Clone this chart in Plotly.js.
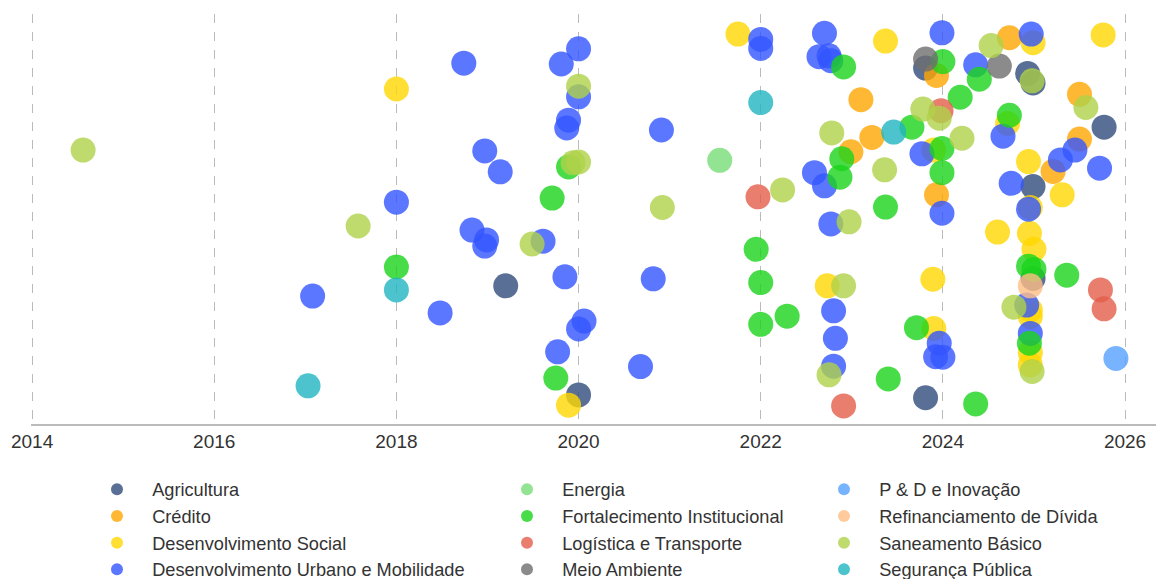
<!DOCTYPE html>
<html>
<head>
<meta charset="utf-8">
<script src="https://cdn.plot.ly/plotly-3.0.1.min.js"></script>
<style>html,body{margin:0;padding:0;background:#fff;}#chart{width:1156px;height:579px;}</style>
</head>
<body>
<div id="chart"></div>
<script>
// Categories (legend order)
const categories = [
  "Agricultura", "Crédito", "Desenvolvimento Social", "Desenvolvimento Urbano e Mobilidade",
  "Energia", "Fortalecimento Institucional", "Logística e Transporte", "Meio Ambiente",
  "P & D e Inovação", "Refinanciamento de Dívida", "Saneamento Básico", "Segurança Pública"
];
const colors = ["#2f4b7c", "#ffa600", "#ffd700", "#3355ff", "#77dd77", "#1ad41a",
                "#e35d4a", "#6e6e6e", "#55a0ff", "#ffbe85", "#afd24a", "#20b5c0"];

// Date (decimal year) and vertical jitter (0-1) per category
const agriculturaYear   = [2019.20, 2020.00, 2023.81, 2024.93, 2024.99, 2025.77, 2024.99, 2024.99, 2023.81];
const agriculturaJitter = [0.337, 0.071, 0.868, 0.855, 0.832, 0.724, 0.579, 0.355, 0.064];

const creditoYear   = [2023.93, 2023.10, 2023.22, 2022.99, 2023.93, 2024.73, 2025.50, 2025.50, 2025.21];
const creditoJitter = [0.850, 0.791, 0.699, 0.664, 0.559, 0.942, 0.804, 0.695, 0.616];

const socialYear   = [2018.00, 2019.89, 2021.75, 2023.37, 2023.90, 2024.99, 2025.76, 2024.71, 2024.94, 2025.31,
                      2024.96, 2024.60, 2024.95, 2025.00, 2024.96, 2024.96, 2024.96, 2024.96, 2022.73, 2023.89, 2023.90];
const socialJitter = [0.817, 0.046, 0.951, 0.934, 0.668, 0.930, 0.949, 0.733, 0.640, 0.559,
                      0.528, 0.468, 0.465, 0.426, 0.278, 0.262, 0.174, 0.144, 0.337, 0.353, 0.233];

const urbanoYear   = [2018.74, 2020.00, 2019.81, 2020.00, 2019.89, 2019.87, 2018.97, 2019.14, 2018.00, 2018.83,
                      2018.99, 2018.97, 2019.61, 2019.85, 2017.08, 2018.48, 2020.06, 2020.00, 2019.77,
                      2022.00, 2022.00, 2020.91, 2020.82, 2020.68,
                      2022.70, 2023.99, 2022.64, 2022.75, 2022.77, 2024.36, 2023.77, 2022.59, 2022.70, 2023.99, 2022.77,
                      2024.97, 2024.66, 2025.45, 2025.29, 2025.72, 2024.75, 2024.94,
                      2024.92, 2024.96, 2022.80, 2022.82, 2023.96, 2023.92, 2024.00, 2022.80];
const urbanoJitter = [0.880, 0.915, 0.878, 0.798, 0.741, 0.722, 0.666, 0.615, 0.541, 0.473,
                      0.449, 0.434, 0.446, 0.359, 0.312, 0.271, 0.251, 0.232, 0.176,
                      0.938, 0.916, 0.717, 0.354, 0.140,
                      0.953, 0.954, 0.896, 0.898, 0.886, 0.876, 0.659, 0.613, 0.581, 0.514, 0.488,
                      0.951, 0.702, 0.668, 0.644, 0.624, 0.587, 0.524,
                      0.290, 0.221, 0.276, 0.209, 0.197, 0.164, 0.163, 0.141];

const energiaYear   = [2021.55];
const energiaJitter = [0.643];

const fortalecimentoYear   = [2019.89, 2019.71, 2018.00, 2019.75, 2021.95, 2022.00, 2022.29, 2022.00, 2022.91, 2024.00,
                              2024.19, 2024.40, 2023.66, 2022.89, 2023.99, 2022.87, 2023.99, 2023.37, 2024.73, 2024.94,
                              2025.00, 2025.36, 2024.95, 2024.36, 2023.71, 2023.40];
const fortalecimentoJitter = [0.627, 0.551, 0.383, 0.112, 0.426, 0.345, 0.263, 0.243, 0.871, 0.884,
                              0.797, 0.841, 0.724, 0.647, 0.672, 0.602, 0.613, 0.529, 0.753, 0.385,
                              0.377, 0.363, 0.197, 0.049, 0.235, 0.110];

const logisticaYear   = [2021.97, 2023.98, 2025.73, 2025.77, 2022.91];
const logisticaJitter = [0.554, 0.764, 0.327, 0.281, 0.044];

const meioAmbienteYear   = [2023.81, 2024.62];
const meioAmbienteJitter = [0.890, 0.873];

const pdYear   = [2025.90];
const pdJitter = [0.160];

const refinanciamentoYear   = [2024.96];
const refinanciamentoJitter = [0.337];

const saneamentoYear   = [2014.56, 2020.00, 2019.94, 2020.00, 2017.58, 2019.49, 2022.24, 2020.92, 2023.78, 2023.96,
                          2022.78, 2024.21, 2023.36, 2022.97, 2024.53, 2024.98, 2025.57, 2022.91, 2022.75, 2024.78, 2024.98];
const saneamentoJitter = [0.668, 0.824, 0.637, 0.639, 0.483, 0.439, 0.571, 0.528, 0.768, 0.746,
                          0.710, 0.697, 0.620, 0.493, 0.923, 0.837, 0.772, 0.337, 0.120, 0.285, 0.128];

const segurancaYear   = [2018.00, 2017.03, 2022.00, 2023.46];
const segurancaJitter = [0.327, 0.093, 0.784, 0.712];

const tickYears = [2014, 2016, 2018, 2020, 2022, 2024, 2026];

const seriesX = [agriculturaYear, creditoYear, socialYear, urbanoYear, energiaYear, fortalecimentoYear,
                 logisticaYear, meioAmbienteYear, pdYear, refinanciamentoYear, saneamentoYear, segurancaYear];
const seriesY = [agriculturaJitter, creditoJitter, socialJitter, urbanoJitter, energiaJitter, fortalecimentoJitter,
                 logisticaJitter, meioAmbienteJitter, pdJitter, refinanciamentoJitter, saneamentoJitter, segurancaJitter];

const legendIds = ["legend", "legend2", "legend3"];
const pad = "\u00a0\u00a0\u00a0";
const traces = categories.map((name, i) => ({
  type: "scatter",
  mode: "markers",
  name: pad + name,
  x: seriesX[i],
  y: seriesY[i],
  legend: legendIds[Math.floor(i / 4)],
  legendgroup: "g" + i,
  cliponaxis: false,
  marker: { color: colors[i], size: 25, opacity: 0.8, line: { width: 0 } },
  hoverinfo: "x+name"
}));

const font = { family: "Liberation Sans, Arial, sans-serif", size: 18.2, color: "#333" };
function legendAt(xpx) {
  return {
    xref: "container", yref: "container",
    x: xpx / 1156, y: 1 - 471 / 579,
    xanchor: "left", yanchor: "top",
    orientation: "v", font: font, itemsizing: "constant",
    tracegroupgap: 0, bgcolor: "rgba(0,0,0,0)", borderwidth: 0
  };
}

const layout = {
  width: 1156, height: 579,
  margin: { l: 31, r: 0, t: 14, b: 155, pad: 0, autoexpand: false },
  paper_bgcolor: "#fff", plot_bgcolor: "#fff",
  showlegend: true,
  font: font,
  xaxis: {
    type: "linear",
    range: [2013.988, 2026.34],
    tickvals: tickYears,
    ticktext: tickYears.map(String),
    showgrid: true, gridcolor: "#bbbbbb", gridwidth: 1, griddash: "dash",
    showline: true, linecolor: "#bbbbbb", linewidth: 1.5,
    zeroline: false, ticks: "", automargin: false,
    tickfont: { family: "Liberation Sans, Arial, sans-serif", size: 19, color: "#333" }
  },
  yaxis: { visible: false, range: [0, 1], fixedrange: true, automargin: false },
  legend: legendAt(97),
  legend2: legendAt(507),
  legend3: legendAt(824)
};

Plotly.newPlot("chart", traces, layout, { displayModeBar: false, staticPlot: true });
</script>
</body>
</html>
